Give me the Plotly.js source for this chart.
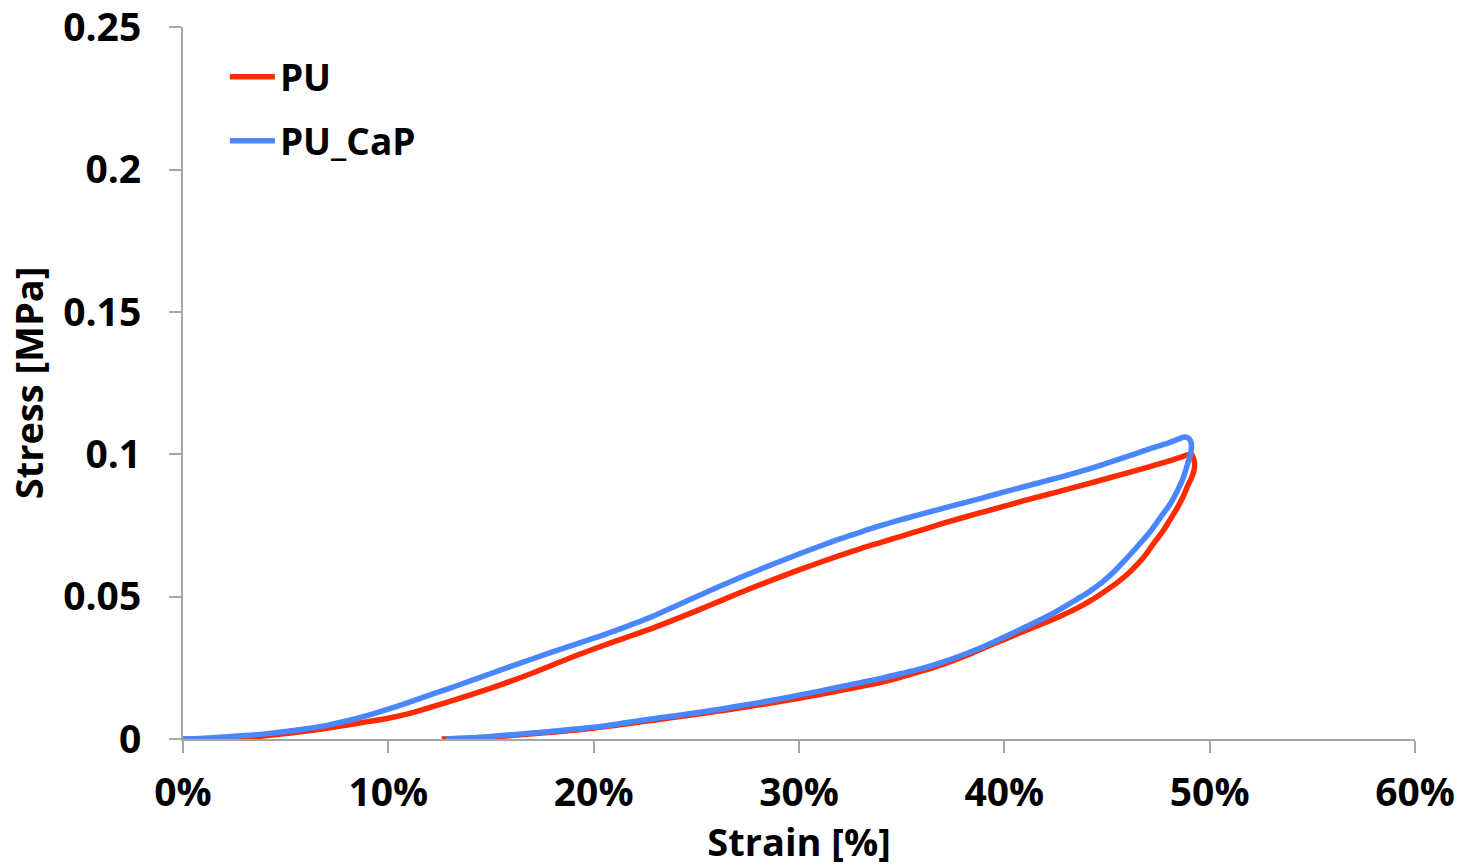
<!DOCTYPE html>
<html>
<head>
<meta charset="utf-8">
<script src="https://cdn.plot.ly/plotly-3.0.1.min.js"></script>
<style>html,body{margin:0;padding:0;background:#fff;}#chart{width:1464px;height:867px;}</style>
</head>
<body>
<div id="chart"></div>
<script>
// Strain in percent, stress in MPa (loading branch then unloading branch)
const puStrain = [0, 1, 2, 3, 4, 5, 6, 7, 8, 9, 10, 11, 12, 13, 14, 15, 16, 17, 18, 19, 20, 21, 22, 23, 24, 25, 26, 27, 28, 29, 30, 31, 32, 33, 34, 35, 36, 37, 38, 39, 40, 41, 42, 43, 44, 45, 46, 47, 48, 48.6, 49.1,
  49.25, 49.25, 49.1, 48.95, 48.7, 48.4, 48.05, 47.7, 47.3, 46.95, 46.5, 45.95, 45.4, 44.8, 44.2, 43.5, 42.8, 42.1, 41.4, 40.8, 40, 39, 38, 37, 36, 35, 34, 33, 32, 31, 30, 29, 28, 27, 26, 25, 24, 23, 22, 21, 20, 19, 18, 17, 16, 15, 14, 13, 12.6];
const puStress = [0, 0.0001, 0.0002, 0.0005, 0.0011, 0.0019, 0.0028, 0.0038, 0.0049, 0.0061, 0.0073, 0.0089, 0.0110, 0.0132, 0.0155, 0.0179, 0.0204, 0.0231, 0.0260, 0.0289, 0.0316, 0.0342, 0.0367, 0.0393, 0.0421, 0.0450, 0.0480, 0.0510, 0.0539, 0.0567, 0.0594, 0.0620, 0.0645, 0.0669, 0.0691, 0.0713, 0.0735, 0.0757, 0.0778, 0.0798, 0.0818, 0.0838, 0.0857, 0.0876, 0.0895, 0.0915, 0.0935, 0.0955, 0.0976, 0.0990, 0.1000,
  0.0975, 0.0949, 0.0915, 0.0893, 0.0850, 0.0809, 0.0768, 0.0728, 0.0690, 0.0654, 0.0615, 0.0576, 0.0544, 0.0514, 0.0486, 0.0458, 0.0434, 0.0412, 0.0392, 0.0374, 0.0350, 0.0320, 0.0289, 0.0262, 0.0239, 0.0218, 0.0199, 0.0184, 0.0170, 0.0156, 0.0143, 0.0131, 0.0119, 0.0108, 0.0097, 0.0087, 0.0077, 0.0067, 0.0057, 0.0047, 0.0038, 0.0031, 0.0024, 0.0018, 0.0012, 0.0007, 0.0003, 0.0001, 0.0];

const capStrain = [0, 1, 2, 3, 4, 5, 6, 7, 8, 9, 10, 11, 12, 13, 14, 15, 16, 17, 18, 19, 20, 21, 22, 23, 24, 25, 26, 27, 28, 29, 30, 31, 32, 33, 34, 35, 36, 37, 38, 39, 40, 41, 42, 43, 44, 45, 46, 47, 48, 48.5, 48.8, 49.0, 49.1,
  49.1, 49.0, 48.9, 48.7, 48.4, 48.1, 47.7, 47.1, 46.5, 45.95, 45.4, 44.8, 44.1, 43.35, 42.1, 40.8, 40, 39, 38, 37, 36, 35, 34, 33, 32, 31, 30, 29, 28, 27, 26, 25, 24, 23, 22, 21, 20, 19, 18, 17, 16, 15, 14, 13, 12.8];
const capStress = [0, 0.0003, 0.0007, 0.0012, 0.0018, 0.0026, 0.0036, 0.0048, 0.0064, 0.0083, 0.0105, 0.0129, 0.0154, 0.0179, 0.0204, 0.0230, 0.0256, 0.0281, 0.0306, 0.0330, 0.0354, 0.0379, 0.0406, 0.0435, 0.0467, 0.0500, 0.0532, 0.0563, 0.0593, 0.0622, 0.0650, 0.0677, 0.0703, 0.0727, 0.0750, 0.0771, 0.0791, 0.0810, 0.0829, 0.0848, 0.0868, 0.0887, 0.0906, 0.0925, 0.0946, 0.0969, 0.0993, 0.1017, 0.1040, 0.1054, 0.1061, 0.1055, 0.1040,
  0.1015, 0.0985, 0.0960, 0.0915, 0.0868, 0.0828, 0.0788, 0.0728, 0.0678, 0.0634, 0.0592, 0.0553, 0.0516, 0.0483, 0.0431, 0.0386, 0.0358, 0.0325, 0.0296, 0.0270, 0.0248, 0.0230, 0.0213, 0.0198, 0.0183, 0.0168, 0.0154, 0.0140, 0.0127, 0.0115, 0.0103, 0.0092, 0.0082, 0.0072, 0.0062, 0.0051, 0.0041, 0.0034, 0.0027, 0.0021, 0.0015, 0.0009, 0.0004, 0.0001, 0.0];

const seriesNames = ['PU', 'PU_CaP'];
const xTickVals = [0, 10, 20, 30, 40, 50, 60];
const xTickText = ['0%', '10%', '20%', '30%', '40%', '50%', '60%'];
const yTickVals = [0, 0.05, 0.1, 0.15, 0.2, 0.25];
const yTickText = ['0', '0.05', '0.1', '0.15', '0.2', '0.25'];

const FONT = '"Open Sans", Lato, sans-serif';
const AX = '#a6a6a6';
const txt = (s) => ({family: FONT, size: s, color: '#000', weight: 'bold'});

const traces = [
  {x: puStrain, y: puStress, name: seriesNames[0], mode: 'lines', legendgroup: 'a',
   line: {color: '#ff2a00', width: 5.5, shape: 'spline', smoothing: 1}},
  {x: capStrain, y: capStress, name: seriesNames[1], mode: 'lines', legendgroup: 'b',
   line: {color: '#4a86ff', width: 5.5, shape: 'spline', smoothing: 1}}
];

const layout = {
  width: 1464, height: 867,
  margin: {l: 183, r: 49, t: 27, b: 128},
  paper_bgcolor: '#fff', plot_bgcolor: '#fff',
  font: txt(36),
  showlegend: true,
  legend: {x: 0.034, y: 0.973, xanchor: 'left', yanchor: 'top', bgcolor: 'rgba(0,0,0,0)',
           font: txt(37), tracegroupgap: 13, traceorder: 'grouped', itemwidth: 45},
  xaxis: {
    range: [0, 60], tickvals: xTickVals, ticktext: xTickText,
    showline: true, linecolor: AX, linewidth: 2, ticks: 'outside', ticklen: 12, tickwidth: 2, tickcolor: AX,
    showgrid: false, zeroline: false, ticklabelstandoff: 6, ticklabeloverflow: 'allow',
    tickfont: txt(39),
    title: {text: 'Strain [%]', font: txt(38), standoff: 17}
  },
  yaxis: {
    range: [0, 0.2501], tickvals: yTickVals, ticktext: yTickText,
    showline: true, linecolor: AX, linewidth: 2, ticks: 'outside', ticklen: 12, tickwidth: 2, tickcolor: AX,
    showgrid: false, zeroline: false, ticklabelstandoff: 20, ticklabeloverflow: 'allow',
    tickfont: txt(39),
    title: {text: 'Stress [MPa]', font: txt(38), standoff: 8}
  }
};

Plotly.newPlot('chart', traces, layout, {displayModeBar: false, staticPlot: true});
</script>
</body>
</html>
